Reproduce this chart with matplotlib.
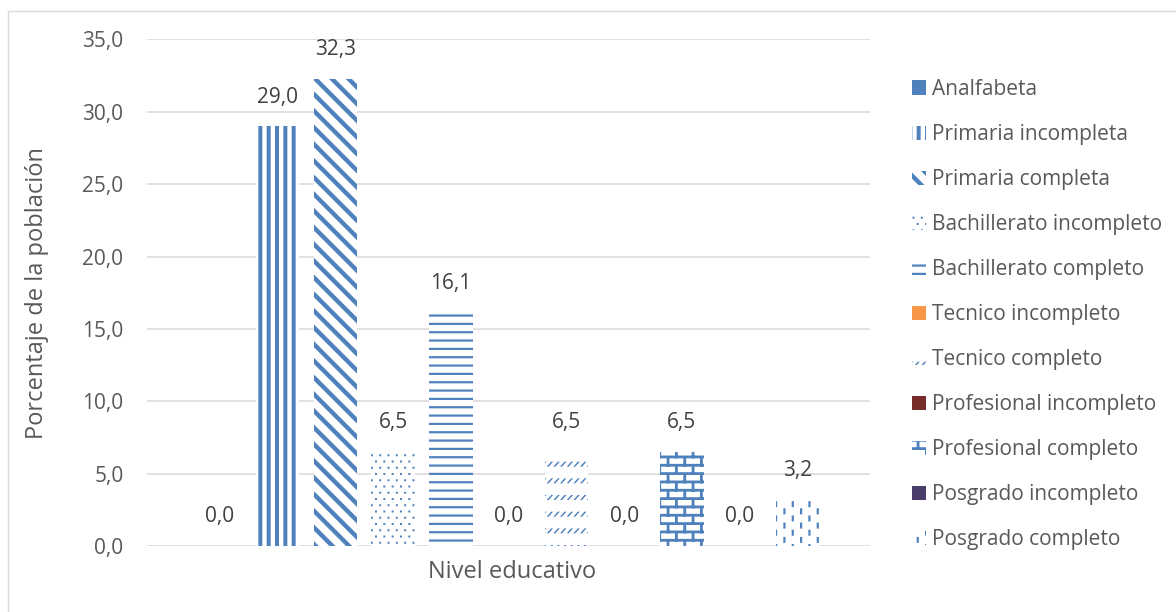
import matplotlib
matplotlib.use("Agg")
import matplotlib.pyplot as plt
import matplotlib.hatch as mhatch
from matplotlib.path import Path
from matplotlib.patches import Rectangle
from matplotlib.ticker import FuncFormatter

# ---- datos ----
niveles = ["Analfabeta", "Primaria incompleta", "Primaria completa",
           "Bachillerato incompleto", "Bachillerato completo", "Tecnico incompleto",
           "Tecnico completo", "Profesional incompleto", "Profesional completo",
           "Posgrado incompleto", "Posgrado completo"]
porcentajes = [0.0, 29.0, 32.3, 6.5, 16.1, 0.0, 6.5, 0.0, 6.5, 0.0, 3.2]
y_ticks = [0, 5, 10, 15, 20, 25, 30, 35]

AZUL = "#4F81BD"
colores = [AZUL, AZUL, AZUL, AZUL, AZUL, "#F79646", AZUL, "#772C2A", AZUL, "#4B3D6B", AZUL]
tramas = [None, "|", "\\", ".", "-", None, "/", None, "+", None, "*"]

GRIS_TXT = "#595959"
GRIS_LINEA = "#D9D9D9"
FS = 15
FS_TITULO = 17

plt.rcParams["font.family"] = ["Open Sans", "DejaVu Sans"]
plt.rcParams["hatch.color"] = AZUL
plt.rcParams["hatch.linewidth"] = 0.0


# ---- tramas tipo Excel (poligonos rellenos en la celda unitaria) ----
def _rect(x0, y0, x1, y1):
    return [(x0, y0), (x1, y0), (x1, y1), (x0, y1)]


def _poligonos(ch):
    polys = []
    if ch == "|":
        for i in range(12):
            x = i / 12
            polys.append(_rect(x, 0, x + 0.04, 1))
    elif ch == "-":
        for i in range(12):
            y = i / 12
            polys.append(_rect(0, y, 1, y + 0.022))
    elif ch == "\\":
        t = 0.062
        for k in range(-1, 14):
            c = k / 6
            polys.append([(0, c), (1, c - 1), (1, c - 1 + t), (0, c + t)])
    elif ch == ".":
        for r in range(16):
            y = r / 16
            off = 0.5 / 12 if r % 2 else 0
            for c in range(12):
                x = c / 12 + off
                polys.append(_rect(x, y, x + 0.02, y + 0.02))
    elif ch == "/":
        for r in range(6):
            y = r / 6
            for c in range(15):
                x = c / 15
                polys.append([(x, y), (x + 0.02, y), (x + 0.065, y + 0.05), (x + 0.045, y + 0.05)])
    elif ch == "+":
        filas, cols = 12, 6
        for r in range(filas):
            y = r / filas
            polys.append(_rect(0, y, 1, y + 0.028))
            off = 0.5 / cols if r % 2 else 0
            for c in range(-1, cols + 1):
                x = c / cols + off
                polys.append(_rect(x, y, x + 0.028, y + 1 / filas))
    elif ch == "*":
        for c in range(12):
            x = c / 12
            off = 0.5 / 7 if c % 2 else 0
            for r in range(-1, 8):
                y = r / 7 + off
                polys.append(_rect(x, y, x + 0.022, y + 0.06))
    return polys


class TramaExcel(mhatch.HatchPatternBase):
    def __init__(self, hatch, density):
        self.polys = []
        for ch in sorted(set(hatch)):
            self.polys += _poligonos(ch)
        self.num_vertices = 5 * len(self.polys)

    def set_vertices_and_codes(self, vertices, codes):
        verts = []
        for p in self.polys:
            verts += p + [p[0]]
        vertices[:] = verts
        codes[:] = [Path.MOVETO, Path.LINETO, Path.LINETO, Path.LINETO, Path.CLOSEPOLY] * len(self.polys)


mhatch._hatch_types = [TramaExcel]

# ---- figura ----
fig = plt.figure(figsize=(11.76, 6.12), dpi=100)
ax = fig.add_axes([0.125, 0.108, 0.615, 0.8275])

x = list(range(len(niveles)))
handles = []
for i in x:
    if tramas[i] is None:
        b = ax.bar(x[i], porcentajes[i], width=0.75, color=colores[i], linewidth=0,
                   label=niveles[i], zorder=2)
    else:
        b = ax.bar(x[i], porcentajes[i], width=0.75, facecolor="white", edgecolor=colores[i],
                   linewidth=0, hatch=tramas[i], label=niveles[i], zorder=2)
    handles.append(b)
    ax.annotate(f"{porcentajes[i]:.1f}".replace(".", ","), (x[i], porcentajes[i]),
                xytext=(0, 21), textcoords="offset points", ha="center", va="center",
                fontsize=FS, color="#404040")

ax.set_xlim(-1.26, 11.26)
ax.set_ylim(0, 35)
ax.set_yticks(y_ticks)
ax.yaxis.set_major_formatter(FuncFormatter(lambda v, p: f"{v:.1f}".replace(".", ",")))
ax.set_xticks([])
ax.tick_params(axis="y", length=0, pad=17, labelsize=FS, labelcolor=GRIS_TXT)
ax.grid(axis="y", color=GRIS_LINEA, linewidth=1.1, zorder=0)
ax.set_axisbelow(True)
for s in ax.spines.values():
    s.set_visible(False)

ax.set_ylabel("Porcentaje de la población", fontsize=FS_TITULO, color=GRIS_TXT)
ax.yaxis.set_label_coords(-0.135, 0.5)
ax.set_xlabel("Nivel educativo", fontsize=FS_TITULO, color=GRIS_TXT)
ax.xaxis.set_label_coords((512 - 147) / 723, -0.027)

ax.legend(handles=handles, labels=niveles, loc="upper left",
          bbox_to_anchor=(912 / 1176, 0.871), bbox_transform=fig.transFigure,
          frameon=False, borderpad=0, borderaxespad=0, handlelength=0.68,
          handleheight=0.68, handletextpad=0.3, labelspacing=1.153,
          fontsize=FS, labelcolor=GRIS_TXT)

# marco exterior del grafico
fig.patches.append(Rectangle((7.5 / 1176, -0.1), 1.2, 1.1 - 10.5 / 612, transform=fig.transFigure,
                             fill=False, edgecolor=GRIS_LINEA, linewidth=1))

fig.savefig("out.png", dpi=100)
